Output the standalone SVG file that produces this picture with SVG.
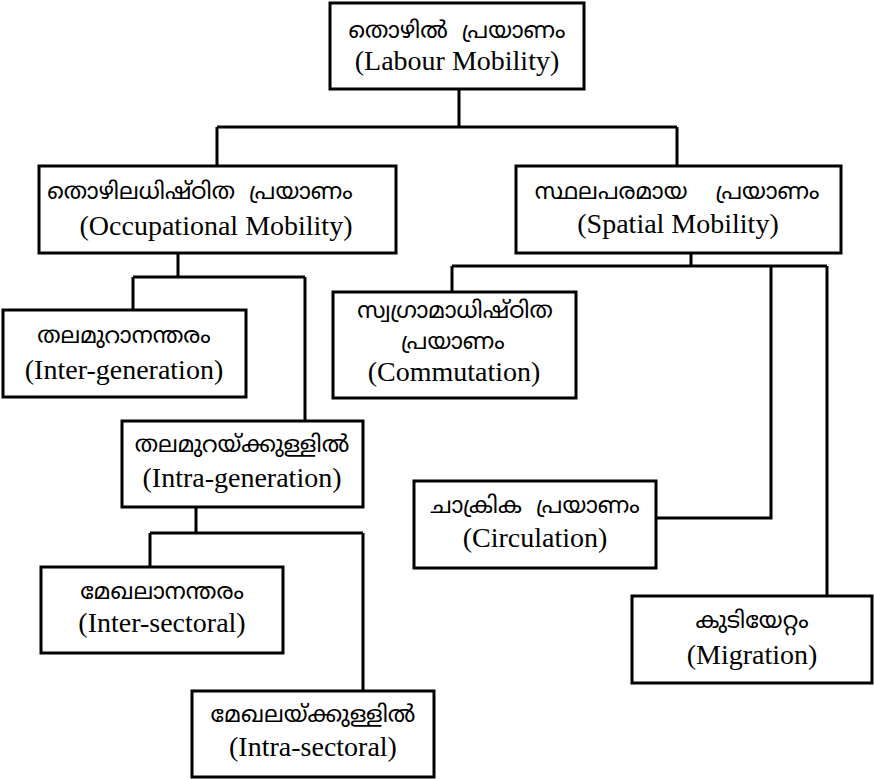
<svg xmlns="http://www.w3.org/2000/svg" width="874" height="779" viewBox="0 0 874 779">
<style>
.box{fill:#fff;stroke:#000;stroke-width:3}
.ml{font-family:"Noto Sans Malayalam","Noto Sans","DejaVu Sans",sans-serif;font-size:23px;text-anchor:middle;fill:#000;white-space:pre}
.en{font-family:"Liberation Serif","Times New Roman","DejaVu Serif",serif;font-size:28px;text-anchor:middle;fill:#000}
.conn{fill:none;stroke:#000;stroke-width:3}
</style>
<rect width="874" height="779" fill="#fff"/>
<g id="connectors">
<path class="conn" d="M459,89 V127 M217,127 H677 M217,127 V166 M677,127 V166"/>
<path class="conn" d="M178,253 V277 M133,277 H305 M133,277 V310 M305,277 V421"/>
<path class="conn" d="M196,507 V533 M150,533 H363 M150,533 V567 M363,533 V691"/>
<path class="conn" d="M691,253 V266 M452,266 H827 M452,266 V292 M771,266 V518 H656 M827,266 V596"/>
</g>
<g id="labour">
<rect class="box" x="330" y="3" width="254" height="86"/>
<text class="ml" x="457" y="38">തൊഴിൽ  പ്രയാണം</text>
<text class="en" x="457" y="70">(Labour Mobility)</text>
</g>
<g id="occupational">
<rect class="box" x="39" y="166" width="357" height="87"/>
<text class="ml" x="200" y="199">തൊഴിലധിഷ്ഠിത  പ്രയാണം</text>
<text class="en" x="216" y="235">(Occupational Mobility)</text>
</g>
<g id="spatial">
<rect class="box" x="516" y="166" width="325" height="87"/>
<text class="ml" x="677" y="199">സ്ഥലപരമായ    പ്രയാണം</text>
<text class="en" x="678" y="233">(Spatial Mobility)</text>
</g>
<g id="intergeneration">
<rect class="box" x="3" y="310" width="243" height="87"/>
<text class="ml" x="124" y="343">തലമുറാനന്തരം</text>
<text class="en" x="124" y="379">(Inter-generation)</text>
</g>
<g id="commutation">
<rect class="box" x="333" y="292" width="243" height="106"/>
<text class="ml" x="455" y="318">സ്വഗ്രാമാധിഷ്ഠിത</text>
<text class="ml" x="453" y="349">പ്രയാണം</text>
<text class="en" x="454" y="381">(Commutation)</text>
</g>
<g id="intrageneration">
<rect class="box" x="122" y="421" width="241" height="86"/>
<text class="ml" x="242" y="452">തലമുറയ്ക്കുള്ളിൽ</text>
<text class="en" x="242" y="487">(Intra-generation)</text>
</g>
<g id="circulation">
<rect class="box" x="414" y="481" width="242" height="87"/>
<text class="ml" x="535" y="513">ചാക്രിക  പ്രയാണം</text>
<text class="en" x="535" y="547">(Circulation)</text>
</g>
<g id="intersectoral">
<rect class="box" x="41" y="567" width="242" height="86"/>
<text class="ml" x="162" y="599">മേഖലാനന്തരം</text>
<text class="en" x="162" y="632">(Inter-sectoral)</text>
</g>
<g id="migration">
<rect class="box" x="632" y="596" width="240" height="87"/>
<text class="ml" x="752" y="628">കുടിയേറ്റം</text>
<text class="en" x="752" y="664">(Migration)</text>
</g>
<g id="intrasectoral">
<rect class="box" x="192" y="691" width="242" height="86"/>
<text class="ml" x="313" y="722">മേഖലയ്ക്കുള്ളിൽ</text>
<text class="en" x="313" y="756">(Intra-sectoral)</text>
</g>
</svg>
